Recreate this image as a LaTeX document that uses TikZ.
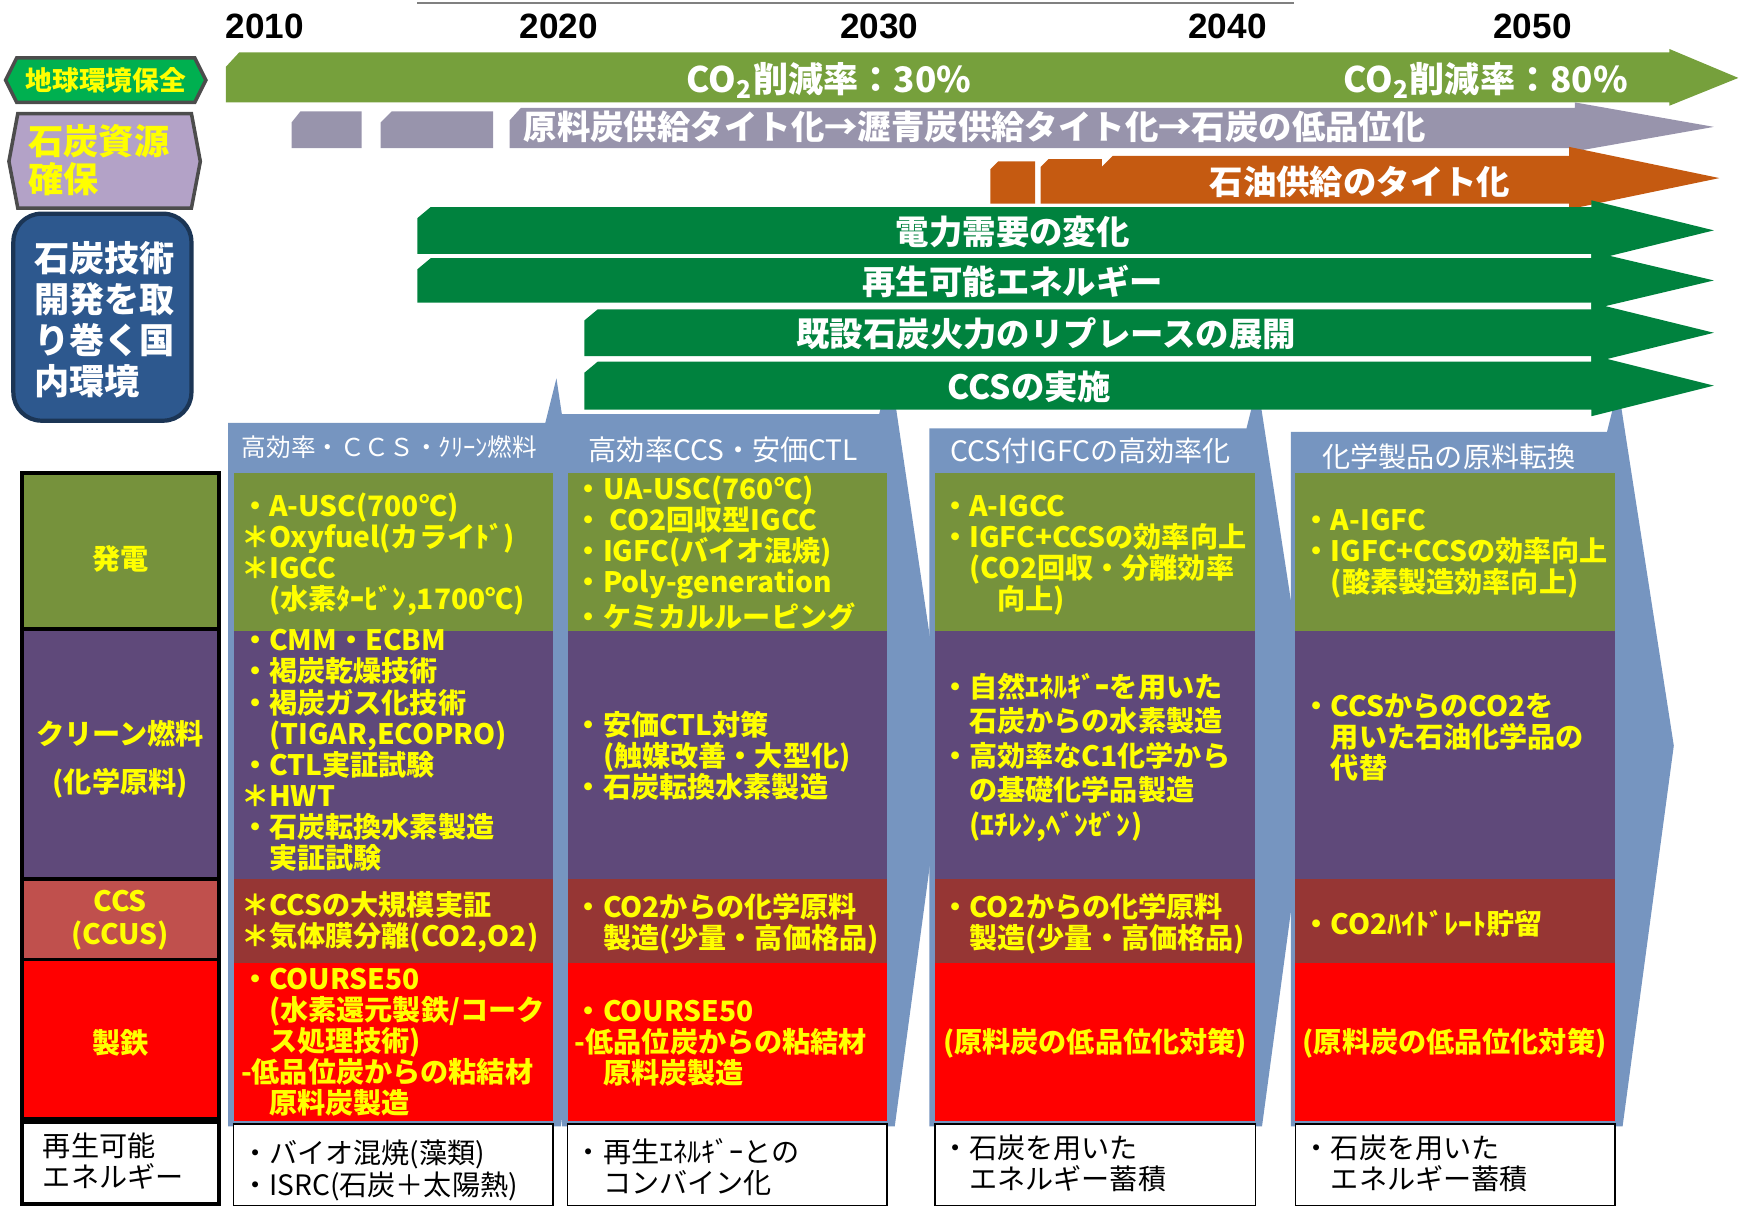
\documentclass[tikz,border=0pt]{standalone}
\usepackage{fontspec}
\setmainfont{Noto Sans CJK JP}
\newfontfamily\yearfont{Liberation Sans}
\definecolor{envgreen}{RGB}{118,160,60}
\definecolor{hexgreen}{RGB}{0,176,80}
\definecolor{lav}{RGB}{179,162,199}
\definecolor{slate}{RGB}{152,148,172}
\definecolor{rust}{RGB}{197,90,17}
\definecolor{dkgreen}{RGB}{0,130,62}
\definecolor{navy}{RGB}{45,88,142}
\definecolor{chev}{RGB}{118,149,192}
\definecolor{olive}{RGB}{118,146,60}
\definecolor{purp}{RGB}{95,73,122}
\definecolor{brick}{RGB}{150,54,52}
\definecolor{ccsred}{RGB}{192,80,77}
\definecolor{yel}{RGB}{255,255,0}
\begin{document}
\begin{tikzpicture}[x=0.011129cm,y=-0.011129cm,
  txt/.style={inner sep=0pt,align=left,anchor=north west,text=yel,font=\fontsize{8}{8.85}\selectfont\bfseries},
  blk/.style={txt,text=black,font=\fontsize{8}{8.85}\selectfont},
  bar/.style={text=white,font=\fontsize{9.5}{11}\selectfont\bfseries,inner sep=0pt},
  hdr/.style={text=white,font=\fontsize{8}{9}\selectfont,inner sep=0pt},
  rowlbl/.style={text=yel,font=\fontsize{8}{13.6}\selectfont\bfseries,align=center,inner sep=0pt},
  cell/.style={draw=black,line width=1pt}]
\useasboundingbox (0,0) rectangle (1568,1085);
\draw[gray,line width=.5pt] (375,3) -- (1163,3);
\foreach \x/\yr in {238/2010,502/2020,790/2030,1103/2040,1377/2050}
  \node[font=\yearfont\fontsize{10}{12}\selectfont\bfseries,inner sep=0pt] (y\yr) at (\x,24) {\yr};
% labels on the left
\draw[fill=hexgreen,draw=black!70,line width=1pt] (5,72) -- (15,52) -- (175,52) -- (185,72) -- (175,92) -- (15,92) -- cycle;
\node[text=yel,font=\fontsize{7.6}{9}\selectfont\bfseries,inner sep=0pt] (env) at (95,72) {地球環境保全};
\draw[fill=lav,draw=black!70,line width=1pt] (8,145) -- (16,102) -- (172,102) -- (180,145) -- (172,187) -- (16,187) -- cycle;
\node[text=yel,font=\fontsize{10}{11}\selectfont\bfseries,align=left,anchor=north west,inner sep=0pt] (coal) at (25,111) {石炭資源\\確保};
\draw[fill=navy,draw=navy!60!black,line width=1.2pt,rounded corners=8pt] (12,192) rectangle (172,378);
\node[text=white,font=\fontsize{10}{11.7}\selectfont\bfseries,align=left,anchor=north west,inner sep=0pt] (dom) at (30,216) {石炭技術\\開発を取\\り巻く国\\内環境};
% trend arrows
\fill[envgreen] (203,60) -- (215,47) -- (1500,47) -- (1500,44) -- (1562,70) -- (1500,95) -- (1500,92) -- (203,92) -- cycle;
\node[bar,font=\fontsize{10}{12}\selectfont\bfseries] (co30) at (745,72) {CO\textsubscript{2}削減率：30\%};
\node[bar,font=\fontsize{10}{12}\selectfont\bfseries] (co80) at (1335,72) {CO\textsubscript{2}削減率：80\%};
\fill[slate] (262,110) -- (270,100) -- (325,100) -- (325,133) -- (262,133) -- cycle;
\fill[slate] (342,110) -- (352,100) -- (443,100) -- (443,133) -- (342,133) -- cycle;
\fill[slate] (458,108) -- (468,97) -- (1415,97) -- (1415,92) -- (1540,114) -- (1415,136) -- (1415,133) -- (458,133) -- cycle;
\node[bar,anchor=west] (tight) at (470,114) {原料炭供給タイト化→瀝青炭供給タイト化→石炭の低品位化};
\fill[rust] (890,152) -- (897,145) -- (930,145) -- (930,183) -- (890,183) -- cycle;
\fill[rust] (935,150) -- (942,143) -- (990,143) -- (990,183) -- (935,183) -- cycle;
\fill[rust] (990,150) -- (1000,140) -- (1410,140) -- (1410,132) -- (1545,160) -- (1410,188) -- (1410,183) -- (990,183) -- cycle;
\node[bar] (oil) at (1222,163) {石油供給のタイト化};
% columns
\foreach \l/\r/\t in {205/502/380,505/802/372,835/1132/385,1160/1456/388}
  \fill[chev] (\l,\t) -- (\r-12,\t) -- (\r-2,\t-40) -- (\r+48,670) -- (\r+2,1012) -- (\l,1012) -- cycle;
\foreach \xa/\ya/\yb/\xt/\lbl in {375/186/228/910/電力需要の変化,375/232/272/910/再生可能エネルギー,525/278/320/940/既設石炭火力のリプレースの展開,525/325/368/925/CCSの実施} {
  \fill[dkgreen] (\xa,\ya+10) -- (\xa+12,\ya) -- (1430,\ya) -- (1430,\ya-6) -- (1540,{(\ya+\yb)/2}) -- (1430,\yb+6) -- (1430,\yb) -- (\xa,\yb) -- cycle;
  \node[bar] (g\ya) at (\xt,{(\ya+\yb)/2+1}) {\lbl};
}
\node[hdr,font=\fontsize{7}{8}\selectfont] (h1) at (350,402) {高効率・ＣＣＳ・ｸﾘｰﾝ燃料};
\node[hdr] (h2) at (650,404) {高効率CCS・安価CTL};
\node[hdr] (h3) at (980,405) {CCS付IGFCの高効率化};
\node[hdr] (h4) at (1302,410) {化学製品の原料転換};
\foreach \l/\r in {210/497,510/797,840/1128,1164/1451} {
  \fill[olive] (\l,425) rectangle (\r,567);
  \fill[purp] (\l,567) rectangle (\r,790);
  \fill[brick] (\l,790) rectangle (\r,865);
  \fill[red] (\l,865) rectangle (\r,1007);
  \draw[fill=white] (\l,1010) rectangle (\r,1083);
}
% row heads
\draw[cell,fill=olive] (20,425) rectangle (197,565);
\node[rowlbl] (power) at (108,502) {発電};
\draw[cell,fill=purp] (20,565) rectangle (197,790);
\node[rowlbl] (fuel) at (108,682) {クリーン燃料\\(化学原料)};
\draw[cell,fill=ccsred] (20,790) rectangle (197,862);
\node[rowlbl,font=\fontsize{8}{9.5}\selectfont\bfseries] (ccs) at (108,827) {CCS\\(CCUS)};
\draw[cell,fill=red] (20,862) rectangle (197,1005);
\node[rowlbl] (iron) at (108,937) {製鉄};
\draw[cell,fill=white] (20,1008) rectangle (197,1082);
\node[blk] (renew) at (38,1017) {再生可能\\エネルギー};
% column texts
\node[txt] (c1pow) at (216,442) {・A-USC(700℃)\\＊Oxyfuel(カライﾄﾞ)\\＊IGCC\\　(水素ﾀｰﾋﾞﾝ,1700℃)};
\node[txt] (c1fuel) at (216,565) {・CMM・ECBM\\・褐炭乾燥技術\\・褐炭ガス化技術\\　(TIGAR,ECOPRO)\\・CTL実証試験\\＊HWT\\・石炭転換水素製造\\　実証試験};
\node[txt] (c1ccs) at (216,800) {＊CCSの大規模実証\\＊気体膜分離(CO2,O2)};
\node[txt] (c1iron) at (216,869) {・COURSE50\\　(水素還元製鉄/コーク\\　ス処理技術)\\-低品位炭からの粘結材\\　原料炭製造};
\node[blk] (c1ren) at (216,1024) {・バイオ混焼(藻類)\\・ISRC(石炭＋太陽熱)};
\node[txt] (c2pow) at (516,427) {・UA-USC(760℃)\\・ CO2回収型IGCC\\・IGFC(バイオ混焼)\\・Poly-generation\\・ケミカルルーピング};
\node[txt] (c2fuel) at (516,638) {・安価CTL対策\\　(触媒改善・大型化)\\・石炭転換水素製造};
\node[txt] (c2ccs) at (516,802) {・CO2からの化学原料\\　製造(少量・高価格品)};
\node[txt] (c2iron) at (516,898) {・COURSE50\\-低品位炭からの粘結材\\　原料炭製造};
\node[blk] (c2ren) at (516,1022) {・再生ｴﾈﾙｷﾞｰとの\\　コンバイン化};
\node[txt] (c3pow) at (845,444) {・A-IGCC\\・IGFC+CCSの効率向上\\　(CO2回収・分離効率\\　　向上)};
\node[txt,font=\fontsize{8}{9.8}\selectfont\bfseries] (c3fuel) at (845,604) {・自然ｴﾈﾙｷﾞｰを用いた\\　石炭からの水素製造\\・高効率なC1化学から\\　の基礎化学品製造\\　(ｴﾁﾚﾝ,ﾍﾞﾝｾﾞﾝ)};
\node[txt] (c3ccs) at (845,802) {・CO2からの化学原料\\　製造(少量・高価格品)};
\node[txt,anchor=center] (c3iron) at (984,937) {(原料炭の低品位化対策)};
\node[blk] (c3ren) at (845,1019) {・石炭を用いた\\　エネルギー蓄積};
\node[txt] (c4pow) at (1170,457) {・A-IGFC\\・IGFC+CCSの効率向上\\　(酸素製造効率向上)};
\node[txt] (c4fuel) at (1170,622) {・CCSからのCO2を\\　用いた石油化学品の\\　代替};
\node[txt] (c4ccs) at (1170,817) {・CO2ﾊｲﾄﾞﾚｰﾄ貯留};
\node[txt,anchor=center] (c4iron) at (1307,937) {(原料炭の低品位化対策)};
\node[blk] (c4ren) at (1170,1019) {・石炭を用いた\\　エネルギー蓄積};
\end{tikzpicture}
\end{document}
